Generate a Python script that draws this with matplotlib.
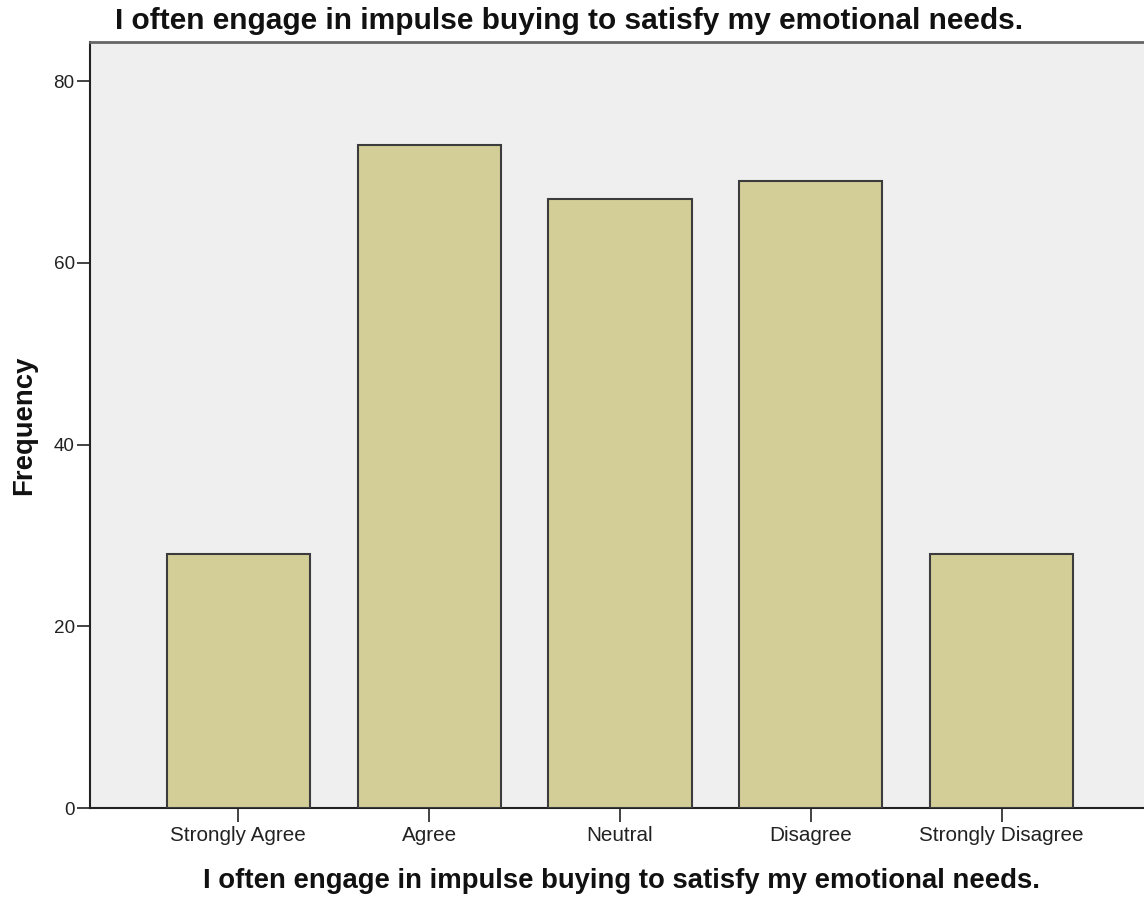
import matplotlib
matplotlib.use("Agg")
import matplotlib.pyplot as plt

categories = ["Strongly Agree", "Agree", "Neutral", "Disagree", "Strongly Disagree"]
frequencies = [28, 73, 67, 69, 28]
yticks = [0, 20, 40, 60, 80]
title_text = "I often engage in impulse buying to satisfy my emotional needs."
ylabel_text = "Frequency"

plt.rcParams['font.family'] = ['Liberation Sans', 'DejaVu Sans']

W, H = 1144, 897
fig = plt.figure(figsize=(W/100, H/100), dpi=100)
ax_left, ax_right, ax_top, ax_bottom = 90, 1154, 42, 808
ax = fig.add_axes([ax_left/W, (H-ax_bottom)/H, (ax_right-ax_left)/W, (ax_bottom-ax_top)/H])
ax.set_facecolor('#EFEFEF')

x = list(range(len(categories)))
ax.bar(x, frequencies, width=0.75, color='#D3CE97', edgecolor='#3C3C3C', linewidth=1.5, zorder=3)

spacing = 190.85
ax.set_xlim(-(238.3-ax_left)/spacing, (ax_right-238.3)/spacing)
ax.set_ylim(0, 84.3)
ax.set_yticks(yticks)
ax.set_xticks(x)
ax.set_xticklabels(categories, fontsize=14.9, color='#222222')
ax.set_yticklabels([str(v) for v in yticks], fontsize=13.6, color='#222222')
ax.tick_params(axis='x', length=10, width=1.2, pad=3, colors='#222222')
ax.tick_params(axis='y', length=9.5, width=1.2, pad=1.5, colors='#222222')

for s in ['left', 'bottom']:
    ax.spines[s].set_linewidth(1.5)
    ax.spines[s].set_color('#222222')
ax.spines['top'].set_linewidth(2)
ax.spines['top'].set_color('#666666')
ax.spines['right'].set_visible(False)

fig.text(115/W, 1 - 29/H, title_text, fontsize=21.5, fontweight='bold',
         ha='left', va='baseline', color='#111111')
fig.text(621.5/W, 1 - 888/H, title_text, fontsize=19.8, fontweight='bold',
         ha='center', va='baseline', color='#111111')
fig.text(31/W, 1 - 425/H, ylabel_text, fontsize=19.8, fontweight='bold',
         ha='center', va='baseline', rotation=90, rotation_mode='anchor', color='#111111')

fig.savefig('out.png', dpi=100)
